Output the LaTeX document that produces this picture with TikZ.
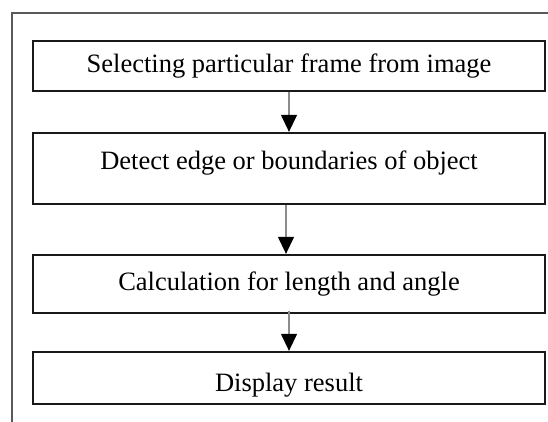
\documentclass[tikz,border=0pt]{standalone}
\usepackage{fontspec}
\setmainfont{Liberation Serif}
\usetikzlibrary{arrows.meta}
\begin{document}
\begin{tikzpicture}[x=1pt,y=1pt,
  stagebox/.style={draw=black!90, line width=1.3pt, rectangle, inner sep=0pt,
    minimum width=512pt},
  lbl/.style={anchor=base, inner sep=0pt, font=\fontsize{26.5}{30}\selectfont},
  flow/.style={draw=black!45, line width=1.3pt,
    -{Triangle[length=17pt,width=16pt,color=black]}, shorten >=0.5pt},
  frame/.style={draw=black!65, line width=1.6pt}
]
\useasboundingbox (0,0) rectangle (548,421);
\fill[white] (0,0) rectangle (548,421);

% surrounding frame (continues past the page edges)
\draw[frame] (12,-5) -- (12,408) -- (560,408);

% process stages
\node[stagebox, minimum height=50pt] (b1) at (289,355) {};
\node[stagebox, minimum height=71pt] (b2) at (289,252.5) {};
\node[stagebox, minimum height=58pt] (b3) at (289,137) {};
\node[stagebox, minimum height=52pt] (b4) at (289,43) {};

% stage captions
\node[lbl] (t1) at (289,348) {Selecting particular frame from image};
\node[lbl] (t2) at (289,252) {Detect edge or boundaries of object};
\node[lbl] (t3) at (289,131) {Calculation for length and angle};
\node[lbl] (t4) at (289,30) {Display result};

% connectors
\draw[flow] (b1.south) -- (b2.north);
\draw[flow] ([xshift=-3pt]b2.south) -- ([xshift=-3pt]b3.north);
\draw[flow] ([yshift=3pt]b3.south) -- (b4.north);
\end{tikzpicture}
\end{document}
